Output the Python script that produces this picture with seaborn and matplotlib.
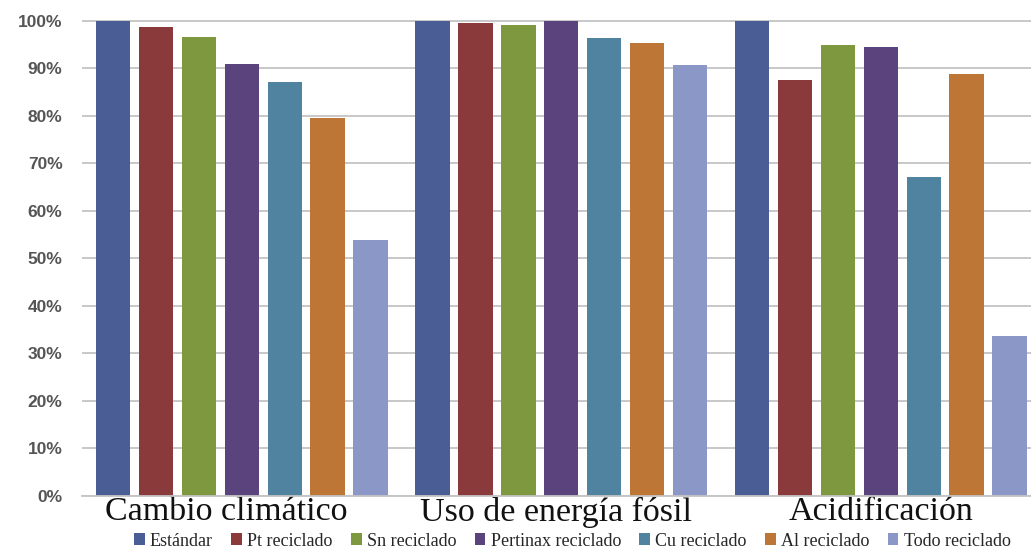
import matplotlib
matplotlib.use("Agg")
import matplotlib.pyplot as plt
from matplotlib.patches import Patch
from matplotlib.ticker import PercentFormatter
from matplotlib.transforms import ScaledTranslation
import seaborn as sns
import pandas as pd

# Impact categories and recycling scenarios (relative to the standard case)
categories = ["Cambio climático", "Uso de energía fósil", "Acidificación"]
scenarios = ["Estándar", "Pt reciclado", "Sn reciclado", "Pertinax reciclado",
             "Cu reciclado", "Al reciclado", "Todo reciclado"]

estandar = [100.0, 100.0, 100.0]
pt_reciclado = [98.7, 99.6, 87.6]
sn_reciclado = [96.6, 99.2, 95.0]
pertinax_reciclado = [91.0, 100.0, 94.6]
cu_reciclado = [87.2, 96.4, 67.2]
al_reciclado = [79.6, 95.4, 88.9]
todo_reciclado = [53.8, 90.8, 33.6]

colors = ["#4a5e95", "#8a3a3b", "#7e983f", "#5b437d",
          "#5083a0", "#bd7636", "#8b97c6"]

series = [estandar, pt_reciclado, sn_reciclado, pertinax_reciclado,
          cu_reciclado, al_reciclado, todo_reciclado]

rows = []
for name, vals in zip(scenarios, series):
    for cat, v in zip(categories, vals):
        rows.append({"Categoría": cat, "Escenario": name, "Valor": v / 100.0})
df = pd.DataFrame(rows)

sns.set_style("white")
fig = plt.figure(figsize=(10.31, 5.49), dpi=100)
ax = fig.add_axes([82 / 1031, 1 - 496 / 549, 1 - 82 / 1031, (496 - 20) / 549])

sns.barplot(data=df, x="Categoría", y="Valor", hue="Escenario",
            hue_order=scenarios, order=categories, palette=colors,
            width=0.94, gap=0.2, saturation=1, errorbar=None,
            edgecolor="none", legend=False, ax=ax)

ax.set_ylim(0, 1.002)
ax.set_xlim(-0.5, 2.47)
ax.set_yticks([i / 10 for i in range(11)])
ax.yaxis.set_major_formatter(PercentFormatter(1.0, decimals=0))
ax.yaxis.grid(True, color="#c4c4c4", linewidth=1.3)
ax.set_axisbelow(True)
for side in ["left", "right", "top"]:
    ax.spines[side].set_visible(False)
ax.spines["bottom"].set_color("#c4c4c4")
ax.spines["bottom"].set_linewidth(1.3)
ax.tick_params(axis="both", length=0)
ax.tick_params(axis="y", pad=14)
ax.tick_params(axis="x", pad=0.5)
ax.set_xlabel("")
ax.set_ylabel("")

for lbl in ax.get_yticklabels():
    lbl.set_fontfamily("Liberation Sans")
    lbl.set_fontweight("bold")
    lbl.set_fontsize(12.5)
    lbl.set_color("#555555")

# small horizontal nudges for the category captions (in pixels)
nudges = [-16, -5, 0]
for lbl, dx in zip(ax.get_xticklabels(), nudges):
    lbl.set_fontfamily("Liberation Serif")
    lbl.set_fontsize(24.5)
    lbl.set_color("#111111")
    lbl.set_transform(lbl.get_transform() +
                      ScaledTranslation(dx / 100, 0, fig.dpi_scale_trans))

handles = [Patch(facecolor=c, edgecolor="none") for c in colors]
fig.legend(handles, scenarios, loc="center", bbox_to_anchor=(0.555, 1 - 541 / 549),
           ncol=7, frameon=False, handlelength=0.6, handleheight=0.6,
           handletextpad=0.3, columnspacing=1.0,
           prop={"family": "Liberation Serif", "size": 13})

fig.savefig("out.png", dpi=100)
